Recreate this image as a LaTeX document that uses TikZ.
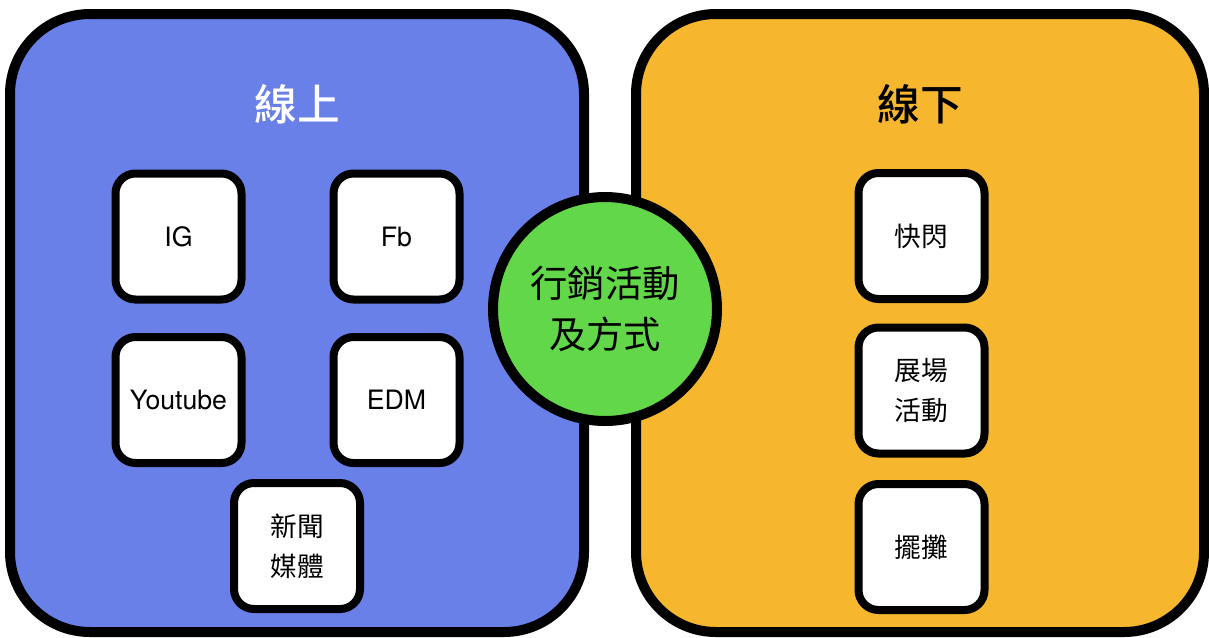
\documentclass[tikz,border=0pt]{standalone}
\usepackage{fontspec}
\setmainfont{TeX Gyre Heros}
\newfontfamily\cjk{Noto Sans CJK TC}
\newfontfamily\cjkmed{Noto Sans CJK TC Medium}
\definecolor{onlineblue}{HTML}{6880E8}
\definecolor{offlineorange}{HTML}{F6B72E}
\definecolor{centergreen}{HTML}{62D74A}
\begin{document}
\begin{tikzpicture}[x=0.75pt,y=-0.75pt,
  bigbox/.style={draw=black, line width=7.5pt, rounded corners=60pt, inner sep=0pt, minimum height=463.5pt},
  itembox/.style={draw=black, fill=white, line width=6pt, rounded corners=15pt, inner sep=0pt,
    minimum width=94.5pt, minimum height=94.5pt, align=center, font=\fontsize{20}{30}\selectfont},
  cjkitem/.style={itembox, font=\cjk\fontsize{20}{30}\selectfont},
  hubcircle/.style={circle, draw=black, fill=centergreen, line width=7.5pt, inner sep=0pt,
    minimum size=168pt, align=center, font=\cjk\fontsize{28}{38}\selectfont},
  titletext/.style={font=\cjkmed\fontsize{32}{38}\selectfont, inner sep=0pt}]
\useasboundingbox (0,0) rectangle (1209,637);
\node[bigbox, fill=onlineblue, minimum width=430.5pt] (online) at (297,323) {};
\node[bigbox, fill=offlineorange, minimum width=426pt] (offline) at (920,323) {};
\node[titletext, text=white] (onlinetitle) at (297,104) {線上};
\node[titletext, text=black] (offlinetitle) at (920,104) {線下};
\node[hubcircle] (hub) at (605,309) {行銷活動\\及方式};
\node[itembox] (ig) at (178.5,236.5) {IG};
\node[itembox] (fb) at (396.5,236.5) {Fb};
\node[itembox] (yt) at (178.5,400) {Youtube};
\node[itembox] (edm) at (396.5,400) {EDM};
\node[cjkitem] (news) at (297,546) {新聞\\媒體};
\node[cjkitem] (flash) at (921.5,236) {快閃};
\node[cjkitem] (expo) at (921.5,390.5) {展場\\活動};
\node[cjkitem] (stall) at (921.5,547) {擺攤};
\end{tikzpicture}
\end{document}
